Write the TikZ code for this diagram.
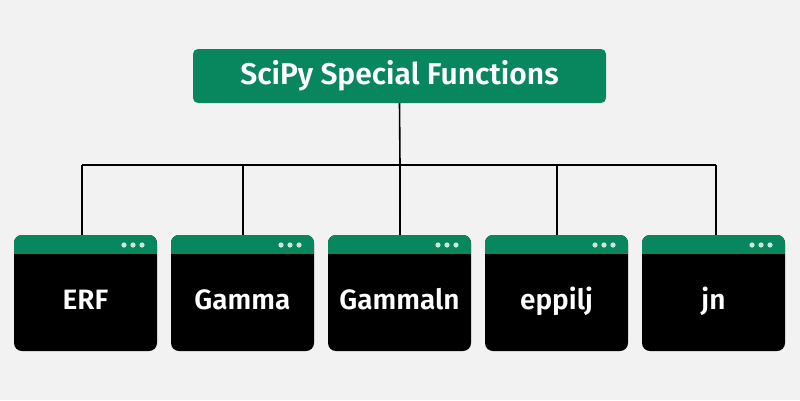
\documentclass[tikz,border=0pt]{standalone}
\usepackage{fontspec}
\setmainfont{Fira Sans}[BoldFont={Fira Sans SemiBold}]
\definecolor{bg}{HTML}{F2F2F2}
\definecolor{sgreen}{HTML}{08875E}
\definecolor{dotc}{HTML}{C8E8D8}
\begin{document}
\begin{tikzpicture}[x=1pt,y=-1pt,
  title/.style={fill=sgreen,rounded corners=5pt,text=white,font=\fontsize{30}{34}\selectfont\bfseries,inner sep=0pt,minimum width=413pt,minimum height=54pt},
  card/.style={fill=black,rounded corners=8pt,inner sep=0pt,minimum width=143pt,minimum height=116pt},
  lbl/.style={text=white,font=\fontsize{28}{32}\selectfont\bfseries},
  conn/.style={line width=1.6pt,draw=black}]
\fill[bg] (0,0) rectangle (800,400);
\useasboundingbox (0,0) rectangle (800,400);
\node[title] (t) at (399.5,76) {SciPy Special Functions};
\coordinate (h) at (400,165);
\foreach \n/\cx/\lx/\txt in {a/85.5/82/ERF,b/242.5/243/Gamma,c/399.5/400/Gammaln,d/556.5/557/eppilj,e/713.5/716/jn}{
  \node[card] (\n) at (\cx,293) {};
  \begin{scope}
    \clip[rounded corners=8pt] (\cx-71.5,235) rectangle (\cx+71.5,351);
    \fill[sgreen] (\cx-71.5,235) rectangle (\cx+71.5,254);
  \end{scope}
  \foreach \dx in {-19,-10,-1}{\fill[dotc] (\cx+71.5+\dx-14,245) circle (2.6);}
  \node[lbl,anchor=base] (\n l) at (\cx,309) {\txt};
  \coordinate (\n t) at (\lx,235);
  \coordinate (\n h) at (\lx,165);
}
\draw[conn] (t.south) -- (h);
\draw[conn] (ah) -- (eh);
\foreach \n in {a,b,c,d,e}{\draw[conn] (\n h) -- (\n t);}
\end{tikzpicture}
\end{document}
